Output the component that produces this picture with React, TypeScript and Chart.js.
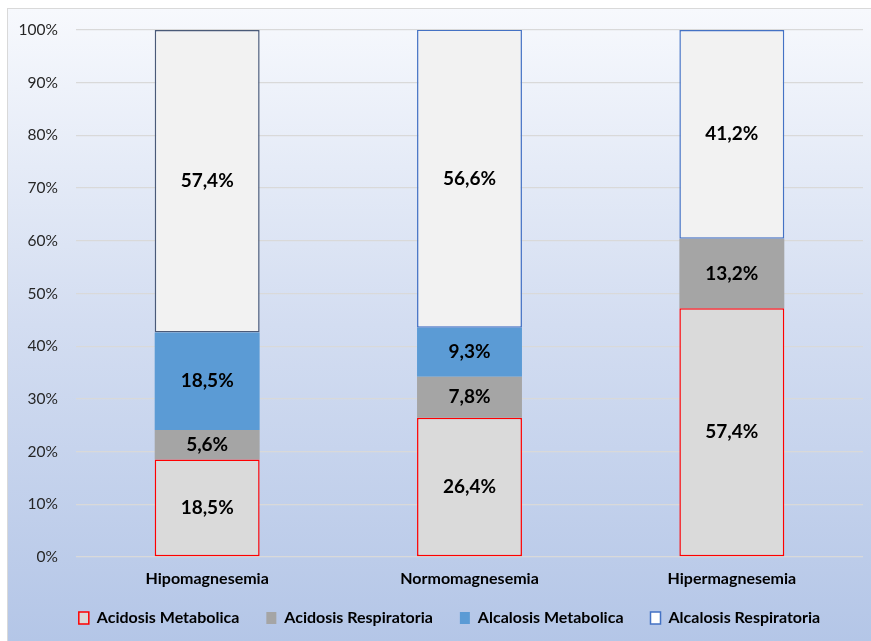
import React, { useEffect, useRef } from "react";
import { Chart, registerables } from "chart.js";

Chart.register(...registerables);

const categories = ["Hipomagnesemia", "Normomagnesemia", "Hipermagnesemia"];
const seriesNames = ["Acidosis Metabolica", "Acidosis Respiratoria", "Alcalosis Metabolica", "Alcalosis Respiratoria"];
const acidosisMetabolica = [18.5, 26.4, 47.2];
const acidosisRespiratoria = [5.6, 7.8, 13.2];
const alcalosisMetabolica = [18.5, 9.3, 0];
const alcalosisRespiratoria = [57.4, 56.6, 39.6];
const labelsAcidosisMetabolica = ["18,5%", "26,4%", "57,4%"];
const labelsAcidosisRespiratoria = ["5,6%", "7,8%", "13,2%"];
const labelsAlcalosisMetabolica = ["18,5%", "9,3%", ""];
const labelsAlcalosisRespiratoria = ["57,4%", "56,6%", "41,2%"];
const yTicks = [0, 10, 20, 30, 40, 50, 60, 70, 80, 90, 100];

const FONT = "Lato, 'Open Sans', sans-serif";

const segmentLabels = [
  labelsAcidosisMetabolica,
  labelsAcidosisRespiratoria,
  labelsAlcalosisMetabolica,
  labelsAlcalosisRespiratoria,
];

const labelPlugin = {
  id: "segLabels",
  afterLayout(chart: any) {
    // widen the label clip areas so tick labels are not cut off
    if (chart.scales.x) chart.scales.x.bottom += 16;
    if (chart.scales.y) chart.scales.y.left -= 28;
  },
  afterDatasetsDraw(chart: any) {
    const ctx = chart.ctx;
    ctx.save();
    ctx.font = `bold 19px ${FONT}`;
    ctx.fillStyle = "#000000";
    ctx.textAlign = "center";
    ctx.textBaseline = "middle";
    chart.data.datasets.forEach((ds: any, di: number) => {
      const meta = chart.getDatasetMeta(di);
      meta.data.forEach((el: any, i: number) => {
        const txt = segmentLabels[di][i];
        if (!txt) return;
        const cy = (el.y + el.base) / 2;
        ctx.fillText(txt, el.x, cy);
      });
    });
    ctx.restore();
  },
};

export default function App() {
  const ref = useRef<HTMLCanvasElement | null>(null);

  useEffect(() => {
    if (!ref.current) return;
    const chart = new Chart(ref.current, {
      type: "bar",
      data: {
        labels: categories,
        datasets: [
          {
            label: seriesNames[0],
            data: acidosisMetabolica,
            backgroundColor: "#dadada",
            borderColor: "#ff0000",
            borderWidth: 1.5,
            borderSkipped: false,
          },
          {
            label: seriesNames[1],
            data: acidosisRespiratoria,
            backgroundColor: "#a5a5a5",
            borderWidth: 0,
          },
          {
            label: seriesNames[2],
            data: alcalosisMetabolica,
            backgroundColor: "#5b9bd5",
            borderWidth: 0,
          },
          {
            label: seriesNames[3],
            data: alcalosisRespiratoria,
            backgroundColor: "#f2f2f2",
            borderColor: ["#4a5a78", "#4472c4", "#4472c4"],
            borderWidth: 1.5,
            borderSkipped: false,
          },
        ],
      },
      options: {
        animation: false,
        responsive: true,
        maintainAspectRatio: false,
        layout: { padding: { top: 21, right: 8, bottom: 33, left: 28 } },
        datasets: { bar: { categoryPercentage: 1, barPercentage: 0.4 } },
        scales: {
          x: {
            stacked: true,
            grid: { display: false, drawTicks: false },
            border: { display: false },
            ticks: {
              padding: 12,
              color: "#000000",
              font: { family: FONT, size: 16, weight: "bold" },
            },
            afterFit(scale: any) {
              scale.height = 26;
              scale.paddingLeft = 0;
              scale.paddingRight = 0;
            },
          },
          y: {
            stacked: true,
            min: 0,
            max: 100,
            afterBuildTicks(scale: any) {
              scale.ticks = yTicks.map((v) => ({ value: v }));
            },
            grid: { color: "#d9d9d9", lineWidth: 1.3, drawTicks: false },
            border: { display: false },
            ticks: {
              padding: 18,
              color: "#262626",
              font: { family: FONT, size: 15.5 },
              callback: (v: any) => `${v}%`,
            },
            afterFit(scale: any) {
              scale.width = 40;
              scale.paddingTop = 0;
              scale.paddingBottom = 0;
            },
          },
        },
        plugins: {
          legend: {
            position: "bottom",
            labels: {
              boxWidth: 10,
              boxHeight: 12,
              padding: 27,
              color: "#000000",
              font: { family: FONT, size: 16, weight: "bold" },
              generateLabels: () => [
                { text: seriesNames[0], fillStyle: "#dadada", strokeStyle: "#ff0000", lineWidth: 1.5, datasetIndex: 0 },
                { text: seriesNames[1], fillStyle: "#a5a5a5", strokeStyle: "#a5a5a5", lineWidth: 0, datasetIndex: 1 },
                { text: seriesNames[2], fillStyle: "#5b9bd5", strokeStyle: "#5b9bd5", lineWidth: 0, datasetIndex: 2 },
                { text: seriesNames[3], fillStyle: "#ffffff", strokeStyle: "#4472c4", lineWidth: 1.5, datasetIndex: 3 },
              ],
            },
          },
          tooltip: { enabled: false },
        },
      },
      plugins: [labelPlugin],
    } as any);
    return () => chart.destroy();
  }, []);

  return (
    <div
      style={{
        position: "absolute",
        left: 7,
        top: 8,
        width: 863,
        height: 632,
        borderTop: "1px solid #d9d9d9",
        borderLeft: "1px solid #d9d9d9",
        background: "linear-gradient(to bottom, #f7f9fd 0%, #d3ddf1 50%, #b4c6e7 100%)",
        overflow: "hidden",
      }}
    >
      <div style={{ position: "relative", width: 863, height: 660 }}>
        <canvas ref={ref} />
      </div>
    </div>
  );
}
